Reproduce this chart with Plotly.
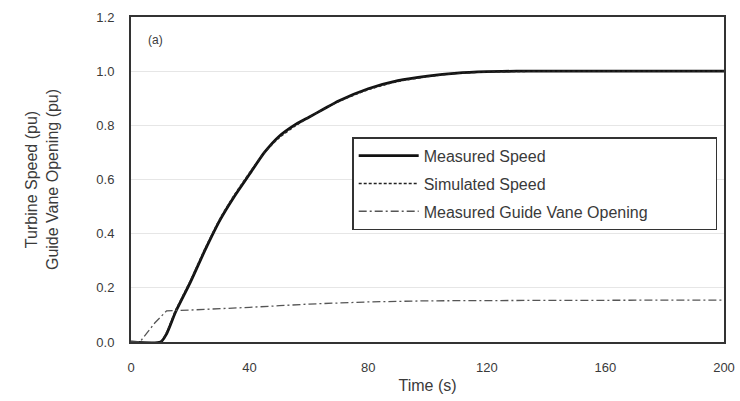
import plotly.graph_objects as go

# ---- data ----
t_meas = [0, 10, 12, 15, 20, 25, 30, 35, 40, 45, 50, 55, 60, 65, 70, 80, 90, 100, 110, 120, 130, 140, 160, 180, 200]
speed_meas = [0, 0, 0.03, 0.11, 0.22, 0.34, 0.45, 0.54, 0.62, 0.70, 0.76, 0.80, 0.83, 0.86, 0.89, 0.935, 0.965, 0.982, 0.993, 0.998, 1.0, 1.0, 1.0, 1.0, 1.0]

t_sim = [0, 10, 12, 15, 20, 25, 30, 35, 40, 45, 50, 55, 60, 65, 70, 80, 90, 100, 110, 120, 130, 140, 160, 180, 200]
speed_sim = [0, 0, 0.035, 0.115, 0.225, 0.345, 0.455, 0.545, 0.625, 0.70, 0.755, 0.795, 0.83, 0.86, 0.888, 0.932, 0.962, 0.98, 0.992, 0.997, 0.999, 1.0, 1.0, 1.0, 1.0]

t_gv = [0, 3, 8, 12, 20, 30, 40, 50, 60, 80, 100, 120, 160, 200]
gv_open = [0, 0, 0.07, 0.115, 0.118, 0.122, 0.128, 0.134, 0.14, 0.148, 0.152, 0.153, 0.154, 0.155]

series_names = ["Measured Speed", "Simulated Speed", "Measured Guide Vane Opening"]

x_ticks = [0, 40, 80, 120, 160, 200]
y_ticks = [0.0, 0.2, 0.4, 0.6, 0.8, 1.0, 1.2]
y_tick_labels = ["0.0", "0.2", "0.4", "0.6", "0.8", "1.0", "1.2"]

font_family = "Liberation Sans, Arial, sans-serif"
text_color = "#3a3a3a"
pad = "\u00a0" * 14  # widens the legend box like the reference

fig = go.Figure()
fig.add_trace(go.Scatter(x=t_meas, y=speed_meas, mode="lines", name=series_names[0], legendgroup="a",
                         line=dict(color="#111111", width=2.8, shape="spline", smoothing=0.6)))
fig.add_trace(go.Scatter(x=t_sim, y=speed_sim, mode="lines", name=series_names[1], legendgroup="b",
                         line=dict(color="#222222", width=1.6, dash="3px,2px", shape="spline", smoothing=0.6)))
fig.add_trace(go.Scatter(x=t_gv, y=gv_open, mode="lines", name=series_names[2] + pad, legendgroup="c",
                         line=dict(color="#555555", width=1.3, dash="8px,3px,2px,3px")))

fig.update_layout(
    width=740, height=401,
    margin=dict(l=131, r=16, t=17, b=59),
    paper_bgcolor="white", plot_bgcolor="white",
    font=dict(family=font_family, size=13, color=text_color),
    showlegend=True,
    legend=dict(x=0.373, y=0.63, xanchor="left", yanchor="top",
                bgcolor="white", bordercolor="#333333", borderwidth=1.5,
                font=dict(size=16, color=text_color), tracegroupgap=4,
                itemwidth=60),
    annotations=[dict(text="(a)", x=0.025, y=0.93, xref="paper", yref="paper",
                      showarrow=False, xanchor="left", yanchor="middle",
                      font=dict(size=12, color=text_color))],
)
fig.update_xaxes(range=[0, 200], tickvals=x_ticks, ticks="", showgrid=False,
                 zeroline=False, showline=True, linecolor="#333333", linewidth=2,
                 mirror=True, title=dict(text="Time (s)", standoff=6), automargin=False,
                 ticklabelstandoff=12, tickfont=dict(size=13))
fig.update_yaxes(range=[0, 1.2], tickvals=y_ticks, ticktext=y_tick_labels, ticks="",
                 showgrid=True, gridcolor="#e6e6e6", gridwidth=1,
                 zeroline=False, showline=True, linecolor="#333333", linewidth=2,
                 mirror=True, ticklabelstandoff=12, automargin=False,
                 title=dict(text="Turbine Speed (pu)<br>Guide Vane Opening (pu)", standoff=34),
                 tickfont=dict(size=13))

fig.write_html("out.html")
